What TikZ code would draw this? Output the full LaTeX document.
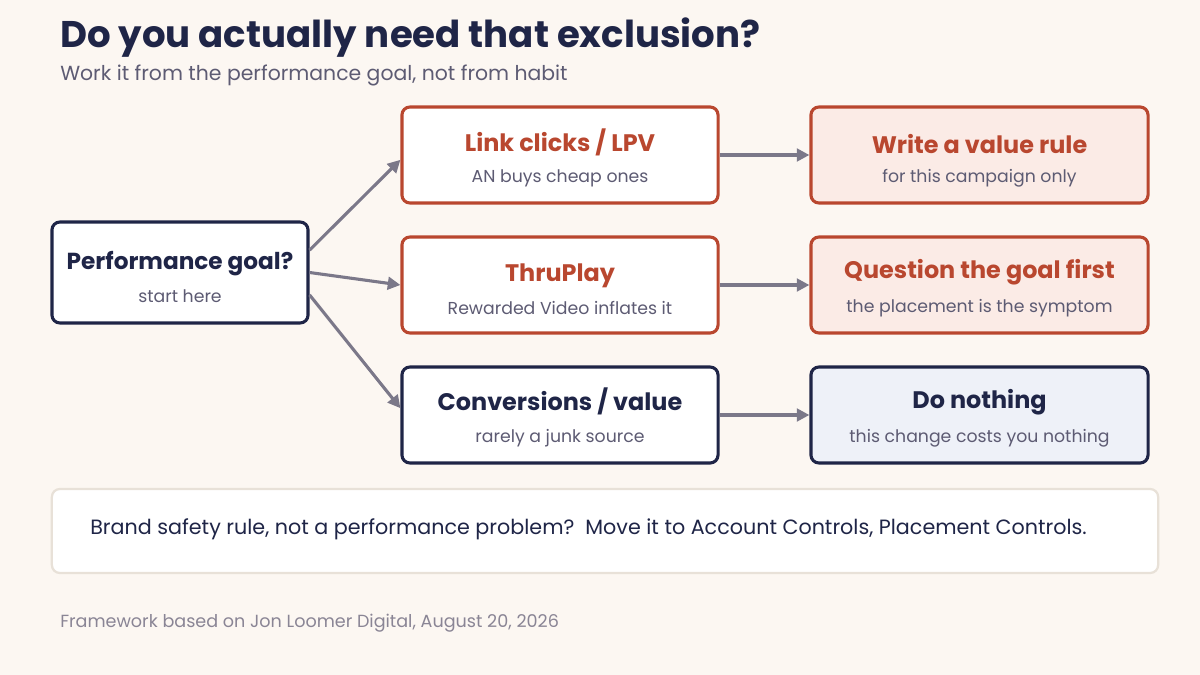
\documentclass[tikz,border=0pt]{standalone}
\usepackage{fontspec}
\setmainfont{Poppins}
\usetikzlibrary{arrows.meta,positioning}

\begin{document}
\begin{tikzpicture}[x=0.025cm,y=-0.025cm,
    box/.style={draw, rounded corners=0.2cm, line width=2.2pt, fill=white,
        align=center, inner sep=0pt, minimum height=2.4cm, text height=42.7pt},
    midbox/.style={box, minimum width=7.9cm},
    endbox/.style={box, minimum width=8.425cm},
    flow/.style={draw=arrowColour, line width=2.2pt,
        -{Triangle[length=9pt,width=9pt]}}]
    \definecolor{bgColour}{HTML}{FCF7F2}
    \definecolor{navyColour}{HTML}{1F2547}
    \definecolor{redColour}{HTML}{B9472F}
    \definecolor{subColour}{HTML}{5D5B73}
    \definecolor{arrowColour}{HTML}{7B7889}
    \definecolor{pinkColour}{HTML}{FBEBE6}
    \definecolor{blueColour}{HTML}{EEF1F8}
    \definecolor{noteColour}{HTML}{E8E1D8}
    \definecolor{footColour}{HTML}{8A8595}

    % Background
    \useasboundingbox (0,0) rectangle (1200,675);
    \fill[bgColour] (0,0) rectangle (1200,675);

    % Heading
    \node[anchor=base west, inner sep=0pt, text=navyColour,
        font=\fontsize{26.4}{31}\selectfont\bfseries] (title) at (60,48)
        {Do you actually need that exclusion?};
    \node[anchor=base west, inner sep=0pt, text=subColour,
        font=\fontsize{14.5}{17}\selectfont] (subtitle) at (60,81)
        {Work it from the performance goal, not from habit};

    % Start box
    \node[box, draw=navyColour, minimum width=6.4cm, minimum height=2.525cm] (start) at (180,272.5)
        {\textcolor{navyColour}{\fontsize{16.5}{20}\selectfont\bfseries Performance goal?}\\[9.1pt]
         \textcolor{subColour}{\fontsize{12.3}{15}\selectfont start here}};

    % Goal boxes
    \node[midbox, draw=redColour] (link) at (560,155)
        {\textcolor{redColour}{\fontsize{17}{20}\selectfont\bfseries Link clicks / LPV}\\[9.1pt]
         \textcolor{subColour}{\fontsize{12.3}{15}\selectfont AN buys cheap ones}};
    \node[midbox, draw=redColour] (thru) at (560,285)
        {\textcolor{redColour}{\fontsize{17}{20}\selectfont\bfseries ThruPlay}\\[9.1pt]
         \textcolor{subColour}{\fontsize{12.3}{15}\selectfont Rewarded Video inflates it}};
    \node[midbox, draw=navyColour] (conv) at (560,415)
        {\textcolor{navyColour}{\fontsize{17}{20}\selectfont\bfseries Conversions / value}\\[9.1pt]
         \textcolor{subColour}{\fontsize{12.3}{15}\selectfont rarely a junk source}};

    % Action boxes
    \node[endbox, draw=redColour, fill=pinkColour] (rule) at (979.5,155)
        {\textcolor{redColour}{\fontsize{17}{20}\selectfont\bfseries Write a value rule}\\[9.1pt]
         \textcolor{subColour}{\fontsize{12.3}{15}\selectfont for this campaign only}};
    \node[endbox, draw=redColour, fill=pinkColour] (question) at (979.5,285)
        {\textcolor{redColour}{\fontsize{17}{20}\selectfont\bfseries Question the goal first}\\[9.1pt]
         \textcolor{subColour}{\fontsize{12.3}{15}\selectfont the placement is the symptom}};
    \node[endbox, draw=navyColour, fill=blueColour] (nothing) at (979.5,415)
        {\textcolor{navyColour}{\fontsize{17}{20}\selectfont\bfseries Do nothing}\\[9.1pt]
         \textcolor{subColour}{\fontsize{12.3}{15}\selectfont this change costs you nothing}};

    % Draw connectors
    \draw[flow] ([yshift=0.56cm]start.east) -- ([yshift=-0.12cm]link.west);
    \draw[flow] (start.east) -- (thru.west);
    \draw[flow] ([yshift=-0.56cm]start.east) -- ([yshift=0.17cm]conv.west);
    \draw[flow] (link) -- (rule);
    \draw[flow] (thru) -- (question);
    \draw[flow] (conv) -- (nothing);

    % Note and footer
    \node[draw=noteColour, fill=white, line width=1.6pt, rounded corners=0.2cm,
        minimum width=27.65cm, minimum height=2.1cm] (note) at (605,531) {};
    \node[anchor=west, inner sep=0pt, text=navyColour,
        font=\fontsize{14.7}{17}\selectfont] (notetext) at (90,529)
        {Brand safety rule, not a performance problem?\ \ Move it to Account Controls, Placement Controls.};
    \node[anchor=base west, inner sep=0pt, text=footColour,
        font=\fontsize{12.5}{15}\selectfont] (footer) at (60,627)
        {Framework based on Jon Loomer Digital, August 20, 2026};
\end{tikzpicture}
\end{document}
